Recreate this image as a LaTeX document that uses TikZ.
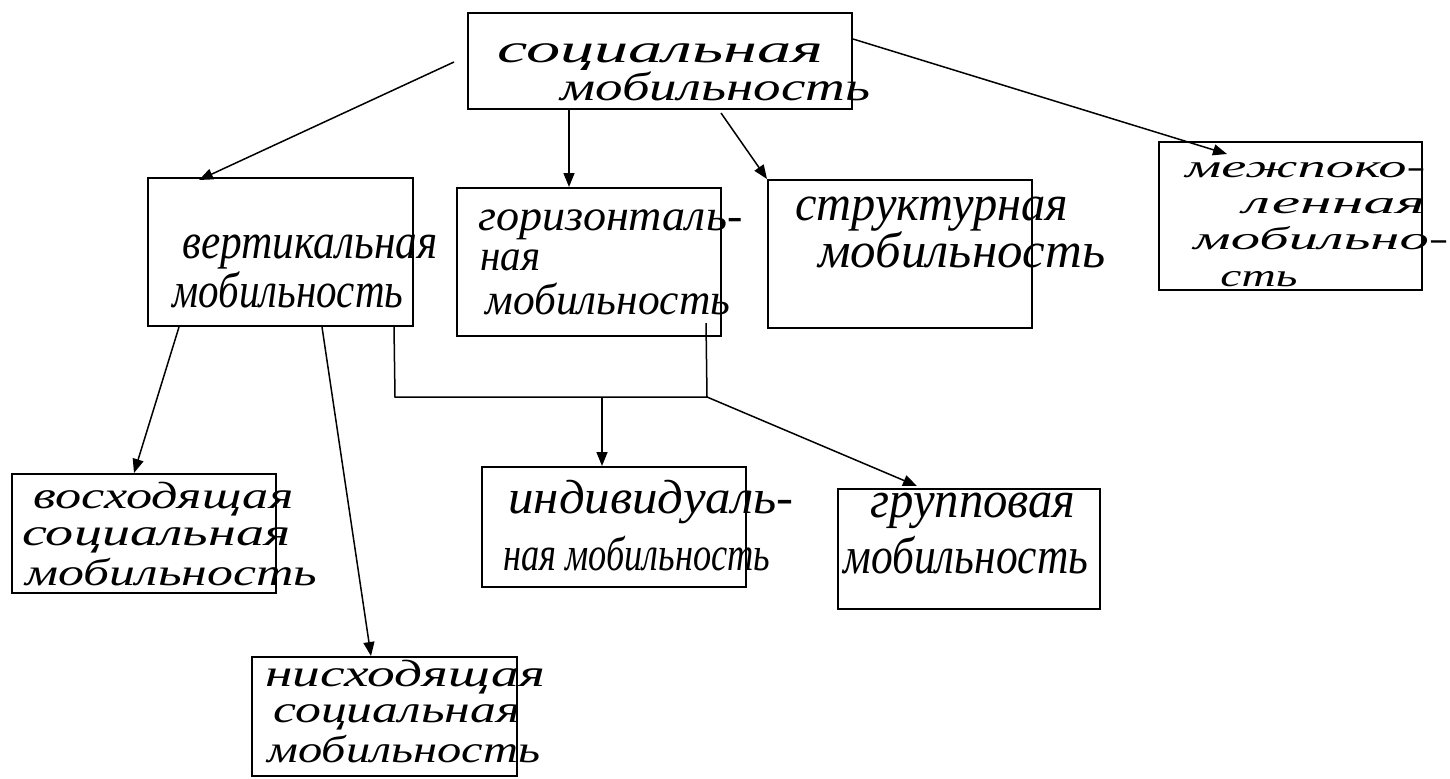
\documentclass[tikz,border=0pt]{standalone}
\usepackage{graphicx}
\usepackage{fontspec}
\usetikzlibrary{arrows.meta,calc}
\newfontfamily\hand{Liberation Serif}
\newcommand\hw[2]{\resizebox{#1}{\height}{#2}}
\tikzset{
  box/.style={draw, line width=1pt, inner sep=0pt, rectangle},
  hnd/.style={font=\hand\itshape\fontsize{#1}{#1}\selectfont, anchor=base west, inner sep=0pt},
  conn/.style={line width=0.75pt},
  arr/.style={conn, -{Triangle[length=7pt,width=5.5pt]}}
}
\begin{document}
\begin{tikzpicture}[x=0.5pt,y=-0.5pt]
\useasboundingbox (0,0) rectangle (1450,778);
% boxes
\node[box, minimum width=192pt, minimum height=48pt] (soc) at (660,61) {};
\node[box, minimum width=132.5pt, minimum height=74pt] (vert) at (280.5,252) {};
\node[box, minimum width=132pt, minimum height=74pt] (hor) at (589,262) {};
\node[box, minimum width=132pt, minimum height=74pt] (str) at (900,254) {};
\node[box, minimum width=131.5pt, minimum height=74pt] (inter) at (1290.5,216) {};
\node[box, minimum width=132pt, minimum height=59.5pt] (asc) at (144,533.5) {};
\node[box, minimum width=132.5pt, minimum height=59.5pt] (desc) at (384.5,716.5) {};
\node[box, minimum width=132pt, minimum height=60pt] (ind) at (614,527) {};
\node[box, minimum width=131pt, minimum height=60pt] (grp) at (969,549) {};
% texts
\node[hnd=20] (soc1) at (497,62) {\hw{163pt}{социальная}};
\node[hnd=20] (soc2) at (560,100) {\hw{155pt}{мобильность}};
\node[hnd=25] (vert1) at (182,258) {\hw{127.5pt}{вертикальная}};
\node[hnd=25] (vert2) at (172,307) {\hw{115.5pt}{мобильность}};
\node[hnd=22] (hor1) at (478,230) {\hw{132pt}{горизонталь-}};
\node[hnd=22] (hor2) at (480,270) {\hw{30pt}{ная}};
\node[hnd=22] (hor3) at (485,314) {\hw{122.5pt}{мобильность}};
\node[hnd=25] (str1) at (795,220) {\hw{136.5pt}{структурная}};
\node[hnd=25] (str2) at (818,267) {\hw{143.5pt}{мобильность}};
\node[hnd=16] (int1) at (1185,177) {\hw{120pt}{межпоко-}};
\node[hnd=16] (int2) at (1242,213) {\hw{91.5pt}{ленная}};
\node[hnd=16] (int3) at (1193,249) {\hw{127.5pt}{мобильно-}};
\node[hnd=16] (int4) at (1220,286) {\hw{38.5pt}{сть}};
\node[hnd=19] (asc1) at (33,508) {\hw{130pt}{восходящая}};
\node[hnd=19] (asc2) at (22,545) {\hw{134pt}{социальная}};
\node[hnd=19] (asc3) at (25,585) {\hw{146pt}{мобильность}};
\node[hnd=19] (desc1) at (265,686) {\hw{140pt}{нисходящая}};
\node[hnd=19] (desc2) at (273,722) {\hw{123.5pt}{социальная}};
\node[hnd=19] (desc3) at (267,762) {\hw{136.5pt}{мобильность}};
\node[hnd=24] (ind1) at (508,513) {\hw{142.5pt}{индивидуаль-}};
\node[hnd=24] (ind2) at (503,570) {\hw{133.5pt}{ная мобильность}};
\node[hnd=26] (grp1) at (870,517) {\hw{102.5pt}{групповая}};
\node[hnd=26] (grp2) at (843,573) {\hw{122.5pt}{мобильность}};
% connectors
\draw[arr] ($(soc.west)+(-13,1)$) -- ($(vert.north west)+(52,3)$);
\draw[arr] ($(soc.south west)+(102,0)$) -- ($(hor.north west)+(113,0)$);
\draw[arr] ($(soc.south west)+(254,3)$) -- (str.north west);
\draw[arr] ($(soc.north east)+(0,27)$) -- ($(inter.north west)+(69,13)$);
\draw[arr] ($(vert.south west)+(32,0)$) -- ($(asc.north west)+(123,0)$);
\draw[arr] ($(vert.south west)+(175,0)$) -- ($(desc.north west)+(120,0)$);
\coordinate (busL) at (395,397);
\coordinate (busR) at (707,397);
\draw[conn] ($(vert.south west)+(247,0)$) -- (busL) -- (busR) -- ($(hor.south west)+(250,-14)$);
\coordinate (indtop) at ($(ind.north west)+(121,0)$);
\draw[arr] (indtop |- busL) -- (indtop);
\draw[arr] (busR) -- ($(grp.north west)+(80,-2)$);
\end{tikzpicture}
\end{document}
